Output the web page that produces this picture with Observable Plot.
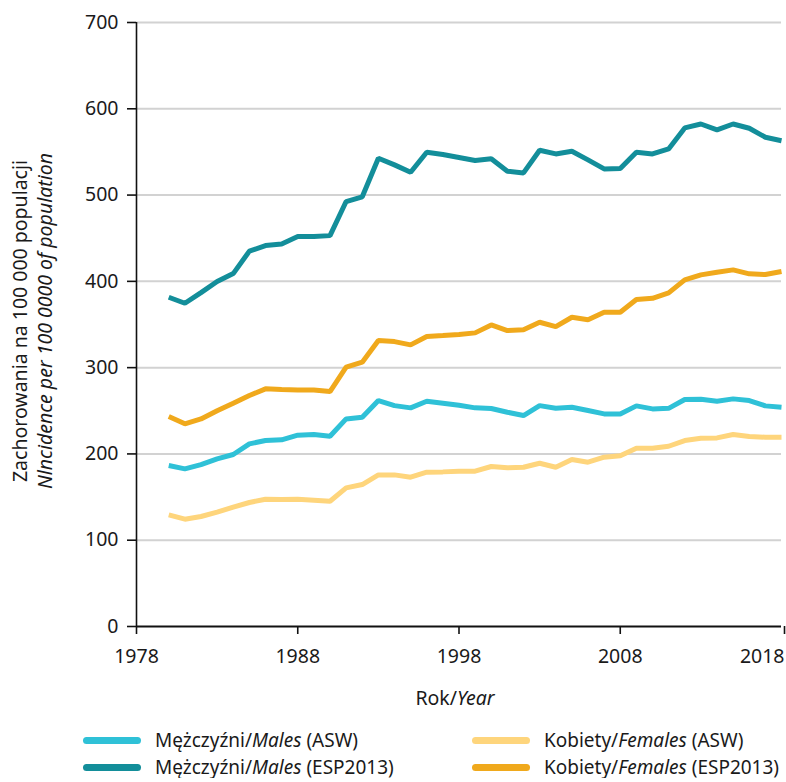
<!DOCTYPE html>
<html>
<head>
<meta charset="utf-8">
<script src="https://cdn.jsdelivr.net/npm/d3@7"></script>
<script src="https://cdn.jsdelivr.net/npm/@observablehq/plot@0.6"></script>
<style>
  html, body { margin: 0; padding: 0; background: #fff; }
  #wrap { width: 786px; font-family: "Noto Sans", "Liberation Sans", sans-serif; color: #1a1a1a; }
  #legend { position: relative; height: 58px; font-size: 19px; }
  .item { position: absolute; display: flex; align-items: center; height: 22px; line-height: 22px; white-space: nowrap; }
  .sw { width: 58px; height: 7px; border-radius: 4px; margin-right: 14px; }
</style>
</head>
<body>
<div id="wrap">
  <div id="chart"></div>
  <div id="legend"></div>
</div>
<script>
const years = [1980,1981,1982,1983,1984,1985,1986,1987,1988,1989,1990,1991,1992,1993,1994,1995,1996,1997,1998,1999,2000,2001,2002,2003,2004,2005,2006,2007,2008,2009,2010,2011,2012,2013,2014,2015,2016,2017,2018];

const malesASW = [186.6,182.7,187.7,194.3,199.3,211.7,215.5,216.3,221.7,222.5,220.5,240.6,242.5,261.9,256,253.4,261,258.8,256.5,253.4,252.6,248.3,244.5,256,253,254.1,250.3,246.4,246.4,255.7,252.2,252.8,263,263.4,261,263.8,261.9,255.7,254.1];
const malesESP = [381.6,374.6,387,399.8,409,435,441.5,443.4,451.9,452,453,492.5,498,542.7,535,526.5,549.6,547,543.5,540,542,527.6,525.7,552,547.7,550.8,540.8,530.3,530.7,549.6,547.7,553.5,577.8,582.4,575.5,582.4,577.4,567,563];
const femalesASW = [129.4,124.4,127.5,132.5,138.3,143.7,147.5,147.1,147.5,146.4,145.2,160.7,164.5,175.7,175.7,173,178.8,179.2,180,180,185.4,183.9,184.6,189.2,184.6,193.5,190.4,196.2,197.8,206.6,206.6,208.9,215.5,218.2,218.6,222.5,220.2,219.4,219.4];
const femalesESP = [243.3,234.9,240.6,250,258.8,267.7,275.4,274.6,274,274,272.3,300.5,306.3,331.4,330.2,326.4,336,337.2,338.5,340.3,349.5,343,343.8,352.6,347.6,358.4,355.4,364.2,364.2,379,380.4,386.6,401.7,407.5,410.6,413.3,408.7,407.9,411.4];

const seriesKeys = ["mASW", "mESP", "fASW", "fESP"];
const seriesColors = ["#2fc1d7", "#138e9a", "#fed57c", "#f0a91c"];
const seriesValues = [malesASW, malesESP, femalesASW, femalesESP];
const legendLabels = [
  ["Mężczyźni/", "Males", " (ASW)"],
  ["Mężczyźni/", "Males", " (ESP2013)"],
  ["Kobiety/", "Females", " (ASW)"],
  ["Kobiety/", "Females", " (ESP2013)"]
];

const xTicks = [1978, 1988, 1998, 2008, 2018];
const yTicks = [0, 100, 200, 300, 400, 500, 600, 700];

const rows = [];
seriesKeys.forEach((k, i) => {
  years.forEach((yr, j) => rows.push({ series: k, year: yr, value: seriesValues[i][j] }));
});

const axisStyle = { fontSize: 19.5, stroke: "#111", strokeWidth: 1.6, label: null };

const chart = Plot.plot({
  width: 786,
  height: 720,
  marginLeft: 136,
  marginRight: 5,
  marginTop: 22,
  marginBottom: 94,
  style: { fontFamily: "'Noto Sans', 'Liberation Sans', sans-serif", fontSize: "19.5px", color: "#1a1a1a", background: "#fff", overflow: "visible" },
  x: { domain: [1978, 2018], label: null },
  y: { domain: [0, 700], label: null },
  color: { domain: seriesKeys, range: seriesColors },
  marks: [
    Plot.gridY(yTicks.filter(d => d > 0), { stroke: "#d2d2d2", strokeOpacity: 1, strokeWidth: 2 }),
    Plot.lineY(rows, { x: "year", y: "value", z: "series", stroke: "series", strokeWidth: 5, strokeLinejoin: "miter", strokeLinecap: "butt" }),
    Plot.axisY(yTicks, { ...axisStyle, tickSize: 9, tickPadding: 9 }),
    Plot.axisX(xTicks.slice(0, -1), { ...axisStyle, tickSize: 8, tickPadding: 15, tickFormat: d => String(d) }),
    Plot.axisX(xTicks.slice(-1), { ...axisStyle, tickSize: 8, tickPadding: 15, tickFormat: d => String(d), textAnchor: "end", dx: 3 }),
    Plot.ruleX([1978], { stroke: "#111", strokeWidth: 1.6 }),
    Plot.ruleY([0], { stroke: "#111", strokeWidth: 2 })
  ]
});

document.getElementById("chart").appendChild(chart);

// axis titles (mixed regular / italic)
const svg = d3.select(chart);
const yTitle = svg.append("g").attr("font-size", 19.5).attr("fill", "#1a1a1a").attr("text-anchor", "middle");
yTitle.append("text").attr("transform", "translate(27,321) rotate(-90)")
  .text("Zachorowania na 100 000 populacji");
yTitle.append("text").attr("transform", "translate(52,321) rotate(-90)").attr("font-style", "italic")
  .text("Nlncidence per 100 0000 of population");

const xTitle = svg.append("text").attr("x", 455).attr("y", 705).attr("font-size", 19.5).attr("fill", "#1a1a1a").attr("text-anchor", "middle");
xTitle.append("tspan").text("Rok/");
xTitle.append("tspan").attr("font-style", "italic").text("Year");

// legend
const legend = d3.select("#legend");
const positions = [[83, 9], [83, 36], [472, 9], [472, 36]];
seriesKeys.forEach((k, i) => {
  const it = legend.append("div").attr("class", "item")
    .style("left", positions[i][0] + "px").style("top", positions[i][1] + "px");
  it.append("div").attr("class", "sw").style("background", seriesColors[i]);
  const sp = it.append("span");
  sp.append("span").text(legendLabels[i][0]);
  sp.append("i").text(legendLabels[i][1]);
  sp.append("span").text(legendLabels[i][2]);
});
</script>
</body>
</html>
